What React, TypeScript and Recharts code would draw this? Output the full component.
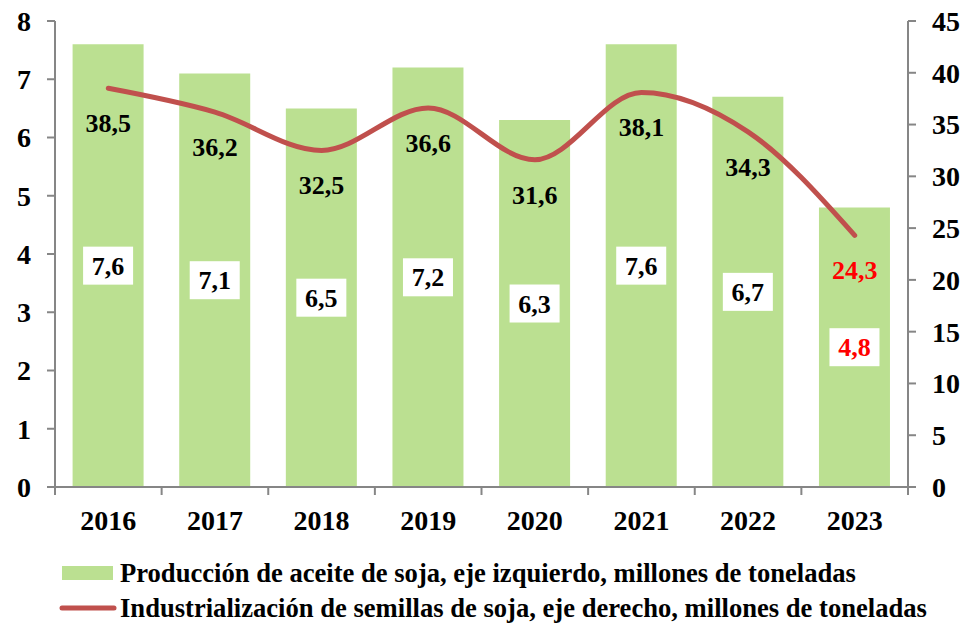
import {
  ComposedChart,
  Bar,
  Line,
  XAxis,
  YAxis,
  Legend,
  LabelList,
} from "recharts";

const years = ["2016", "2017", "2018", "2019", "2020", "2021", "2022", "2023"];
const aceite = [7.6, 7.1, 6.5, 7.2, 6.3, 7.6, 6.7, 4.8];
const semillas = [38.5, 36.2, 32.5, 36.6, 31.6, 38.1, 34.3, 24.3];
const leftTicks = [0, 1, 2, 3, 4, 5, 6, 7, 8];
const rightTicks = [0, 5, 10, 15, 20, 25, 30, 35, 40, 45];

const barName = "Producción de aceite de soja, eje izquierdo, millones de toneladas";
const lineName = "Industrialización de semillas de soja, eje derecho, millones de toneladas";

const data = years.map((year, i) => ({
  year,
  aceite: aceite[i],
  semillas: semillas[i],
}));

const W = 967;
const H = 623;
const LEFT_W = 55;
const RIGHT_W = 59;
const BAND = (W - LEFT_W - RIGHT_W) / years.length;
const FONT = "Liberation Serif, Times New Roman, Times, serif";
const AXIS = "#868686";
const BAR = "#bbe091";
const LINE = "#c0504d";
const RED = "#ff0000";
const LAST = years.length - 1;

const fmt = (v: number) => v.toFixed(1).replace(".", ",");

const tickFont = { fontSize: 28, fontWeight: 700, fontFamily: FONT, fill: "#000" };
const labelFont = { fontSize: 26, fontWeight: 700, fontFamily: FONT };

function YearTick(props: any) {
  const { x, y, payload, index } = props;
  return (
    <g>
      <line x1={x - BAND / 2} x2={x - BAND / 2} y1={y} y2={y + 8} stroke={AXIS} strokeWidth={2} />
      {index === LAST && (
        <line x1={x + BAND / 2} x2={x + BAND / 2} y1={y} y2={y + 8} stroke={AXIS} strokeWidth={2} />
      )}
      <text x={x} y={y + 43} textAnchor="middle" {...tickFont}>
        {payload.value}
      </text>
    </g>
  );
}

function BarValue(props: any) {
  const { x, y, width, height, value, index } = props;
  const cx = x + width / 2;
  const cy = y + height / 2;
  return (
    <g>
      <rect x={cx - 25} y={cy - 19} width={50} height={38} fill="#fff" />
      <text
        x={cx}
        y={cy + 9}
        textAnchor="middle"
        {...labelFont}
        fill={index === LAST ? RED : "#000"}
      >
        {fmt(value)}
      </text>
    </g>
  );
}

function LineValue(props: any) {
  const { x, y, value, index } = props;
  return (
    <text
      x={x}
      y={y + 44}
      textAnchor="middle"
      {...labelFont}
      fill={index === LAST ? RED : "#000"}
    >
      {fmt(value)}
    </text>
  );
}

function LegendBox() {
  const text = { fontSize: 26.6, fontWeight: 700, fontFamily: FONT, fill: "#000" };
  return (
    <svg width={W} height={86} style={{ display: "block" }}>
      <rect x={62} y={29} width={51} height={14} fill={BAR} />
      <text x={120} y={45} {...text}>
        {barName}
      </text>
      <line x1={62} x2={114} y1={71} y2={71} stroke={LINE} strokeWidth={5} strokeLinecap="round" />
      <text x={120} y={80} {...text}>
        {lineName}
      </text>
    </svg>
  );
}

export default function App() {
  return (
    <div style={{ position: "absolute", left: 0, top: 0, background: "#fff", fontFamily: FONT }}>
      <ComposedChart
        width={W}
        height={H}
        data={data}
        margin={{ top: 21, right: 0, left: 0, bottom: 0 }}
        barCategoryGap="16.5%"
        style={{ fontFamily: FONT }}
      >
        <XAxis
          dataKey="year"
          xAxisId="x"
          height={50}
          tickSize={0}
          tickMargin={0}
          tickLine={false}
          axisLine={{ stroke: AXIS, strokeWidth: 2 }}
          tick={<YearTick />}
          interval={0}
        />
        <YAxis
          yAxisId="left"
          orientation="left"
          width={LEFT_W}
          domain={[0, 8]}
          ticks={leftTicks}
          interval={0}
          tickSize={8}
          tickMargin={16}
          tickLine={{ stroke: AXIS, strokeWidth: 2 }}
          axisLine={{ stroke: AXIS, strokeWidth: 2 }}
          tick={tickFont}
        />
        <YAxis
          yAxisId="right"
          orientation="right"
          width={RIGHT_W}
          domain={[0, 45]}
          ticks={rightTicks}
          interval={0}
          tickSize={8}
          tickMargin={16}
          tickLine={{ stroke: AXIS, strokeWidth: 2 }}
          axisLine={{ stroke: AXIS, strokeWidth: 2 }}
          tick={{ ...tickFont, textAnchor: "start" }}
        />
        <Legend verticalAlign="bottom" height={86} content={<LegendBox />} />
        <Bar
          dataKey="aceite"
          name={barName}
          xAxisId="x"
          yAxisId="left"
          fill={BAR}
          isAnimationActive={false}
        >
          <LabelList dataKey="aceite" content={<BarValue />} />
        </Bar>
        <Line
          dataKey="semillas"
          name={lineName}
          xAxisId="x"
          yAxisId="right"
          type="monotone"
          stroke={LINE}
          strokeWidth={5}
          strokeLinecap="round"
          dot={false}
          activeDot={false}
          isAnimationActive={false}
        >
          <LabelList dataKey="semillas" content={<LineValue />} />
        </Line>
      </ComposedChart>
    </div>
  );
}
